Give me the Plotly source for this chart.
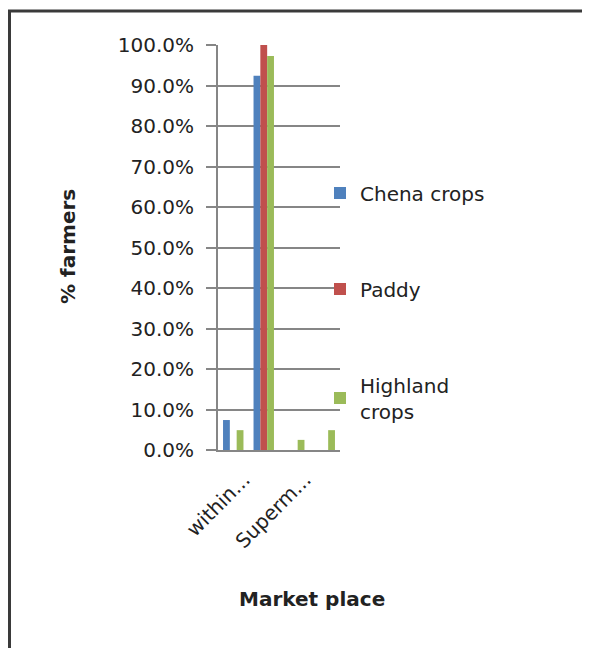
import plotly.graph_objects as go

# ---- data ----
tick_labels = ["within...", "", "Superm...", ""]
series_names = ["Chena crops", "Paddy", "Highland<br>crops"]
chena = [7.4, 92.4, 0.0, 0.0]
paddy = [0.0, 100.0, 0.0, 0.0]
highland = [4.9, 97.3, 2.5, 4.9]
colors = ["#4F81BD", "#C0504D", "#9BBB59"]

x_pos = list(range(len(tick_labels)))

# page body has an 8px margin; size the figure to fill the 590x648 window
OFF = 8
W, H = 590 - OFF, 648 - OFF
# plot area in window pixels: x 218..340, y 45..450
L, R, T, B = 218 - OFF, 590 - 340, 45 - OFF, 648 - 450
pw, ph = W - L - R, H - T - B

def px_x(px):  # window pixel -> paper x
    return (px - OFF - L) / pw

def px_y(py):  # window pixel -> paper y
    return (H - B - (py - OFF)) / ph

fig = go.Figure()
legends = ["legend", "legend2", "legend3"]
for name, vals, col, lg in zip(series_names, [chena, paddy, highland], colors, legends):
    fig.add_trace(go.Bar(
        x=x_pos, y=[v / 100 for v in vals], name=name,
        marker=dict(color=col, line=dict(width=0)),
        legend=lg,
    ))

font_family = "DejaVu Sans"
FS = 20
leg_common = dict(
    font=dict(family=font_family, size=FS, color="#222"),
    bgcolor="rgba(0,0,0,0)", borderwidth=0,
    xanchor="left", yanchor="middle",
    itemwidth=30,
)
fig.update_layout(
    width=W, height=H,
    margin=dict(l=L, r=R, t=T, b=B, pad=0),
    paper_bgcolor="white", plot_bgcolor="white",
    barmode="group", bargap=0.33, bargroupgap=0,
    font=dict(family=font_family, size=FS, color="#222"),
    legend=dict(x=px_x(320), y=px_y(193), **leg_common),
    legend2=dict(x=px_x(320), y=px_y(289), **leg_common),
    legend3=dict(x=px_x(320), y=px_y(398), **leg_common),
    xaxis=dict(
        range=[-0.5, len(tick_labels) - 0.5],
        tickmode="array", tickvals=x_pos, ticktext=tick_labels,
        tickangle=-45, ticks="", showgrid=False,
        showline=True, linecolor="#868686", linewidth=2,
        tickfont=dict(family=font_family, size=FS, color="#222"),
        ticklabelshift=11, ticklabelstandoff=8,
        zeroline=False,
    ),
    yaxis=dict(
        range=[0, 1.0], tickmode="linear", dtick=0.1, tick0=0,
        tickformat=".1%",
        showgrid=True, gridcolor="#868686", gridwidth=1.5,
        showline=True, linecolor="#868686", linewidth=2,
        ticks="outside", ticklen=10, tickcolor="#868686", tickwidth=1.5,
        tickfont=dict(family=font_family, size=FS, color="#222"),
        ticklabelstandoff=8,
        zeroline=False,
    ),
    showlegend=True,
)

# axis titles
fig.add_annotation(text="<b>% farmers</b>", xref="paper", yref="paper",
                   x=px_x(68), y=px_y(247), xanchor="center", yanchor="middle",
                   textangle=-90, showarrow=False,
                   font=dict(family=font_family, size=FS, color="#222"))
fig.add_annotation(text="<b>Market place</b>", xref="paper", yref="paper",
                   x=px_x(312), y=px_y(599), xanchor="center", yanchor="middle",
                   showarrow=False,
                   font=dict(family=font_family, size=FS, color="#222"))

# chart border (top and left edges visible)
fig.add_shape(type="line", xref="paper", yref="paper",
              x0=px_x(8), x1=px_x(590), y0=px_y(11), y1=px_y(11),
              line=dict(color="#3a3a3a", width=3))
fig.add_shape(type="line", xref="paper", yref="paper",
              x0=px_x(9.5), x1=px_x(9.5), y0=px_y(10), y1=px_y(648),
              line=dict(color="#3a3a3a", width=3))

fig.write_html("out.html", config={"displayModeBar": False})
